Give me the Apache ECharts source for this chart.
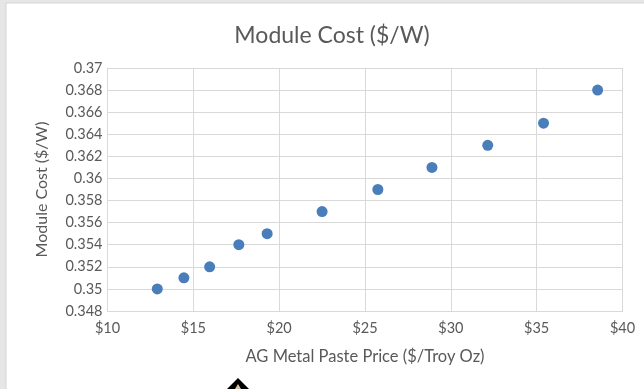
<!DOCTYPE html>
<html>
<head>
<meta charset="utf-8">
<script src="https://cdn.jsdelivr.net/npm/echarts@6/dist/echarts.min.js"></script>
<style>
  html, body { margin: 0; padding: 0; background: #e6e6e6; }
  #chart { width: 644px; height: 389px; }
</style>
</head>
<body>
<div id="chart"></div>
<script>
// Silver paste price vs. resulting module cost
const pastePrice = [12.9, 14.45, 15.95, 17.65, 19.3, 22.5, 25.75, 28.9, 32.15, 35.4, 38.55];
const moduleCost = [0.350, 0.351, 0.352, 0.354, 0.355, 0.357, 0.359, 0.361, 0.363, 0.365, 0.368];

const chartTitle = 'Module Cost ($/W)';
const xTitle = 'AG Metal Paste Price ($/Troy Oz)';
const yTitle = 'Module Cost ($/W)';

const FONT = 'Lato, "Open Sans", sans-serif';
const TEXT = '#595959';
const GRID = '#d9d9d9';

const chart = echarts.init(document.getElementById('chart'), null, { renderer: 'canvas' });

chart.setOption({
  backgroundColor: '#e6e6e6',
  animation: false,
  graphic: [
    { type: 'rect', z: -10, shape: { x: 6, y: 3, width: 644, height: 400 },
      style: { fill: '#ffffff', stroke: '#d4d4d4', lineWidth: 1 } },
    // mouse pointer peeking in at the bottom edge
    { type: 'polygon', z: 100, shape: { points: [[238, 378], [227, 389], [249, 389]] },
      style: { fill: '#000000' } },
    { type: 'polygon', z: 101, shape: { points: [[238, 384], [235, 389], [241, 389]] },
      style: { fill: '#d8c8a0' } }
  ],
  title: {
    text: chartTitle,
    left: 327,
    textAlign: 'center',
    top: 19,
    textStyle: { fontFamily: FONT, fontSize: 23, fontWeight: 'normal', color: TEXT }
  },
  grid: { left: 107.5, right: 21.5, top: 68, bottom: 78 },
  xAxis: {
    type: 'value',
    min: 10, max: 40, interval: 5,
    name: xTitle,
    nameLocation: 'middle',
    nameGap: 37,
    nameTextStyle: { fontFamily: FONT, fontSize: 16.5, color: TEXT },
    axisLine: { show: true, lineStyle: { color: GRID } },
    axisTick: { show: false },
    axisLabel: { fontFamily: FONT, fontSize: 14.5, color: TEXT, margin: 10,
      formatter: v => '$' + v },
    splitLine: { show: true, lineStyle: { color: GRID, width: 1 } }
  },
  yAxis: {
    type: 'value',
    min: 0.348, max: 0.37, interval: 0.002,
    name: yTitle,
    nameLocation: 'middle',
    nameGap: 58,
    nameTextStyle: { fontFamily: FONT, fontSize: 16, color: TEXT },
    axisLine: { show: true, lineStyle: { color: GRID } },
    axisTick: { show: false },
    axisLabel: { fontFamily: FONT, fontSize: 14.5, color: TEXT, margin: 5,
      formatter: v => String(parseFloat(v.toFixed(3))) },
    splitLine: { show: true, lineStyle: { color: GRID, width: 1 } }
  },
  series: [{
    type: 'scatter',
    symbol: 'circle',
    symbolSize: 11,
    itemStyle: { color: '#4a7ebb', opacity: 1 },
    data: pastePrice.map((x, i) => [x, moduleCost[i]])
  }]
});
</script>
</body>
</html>
